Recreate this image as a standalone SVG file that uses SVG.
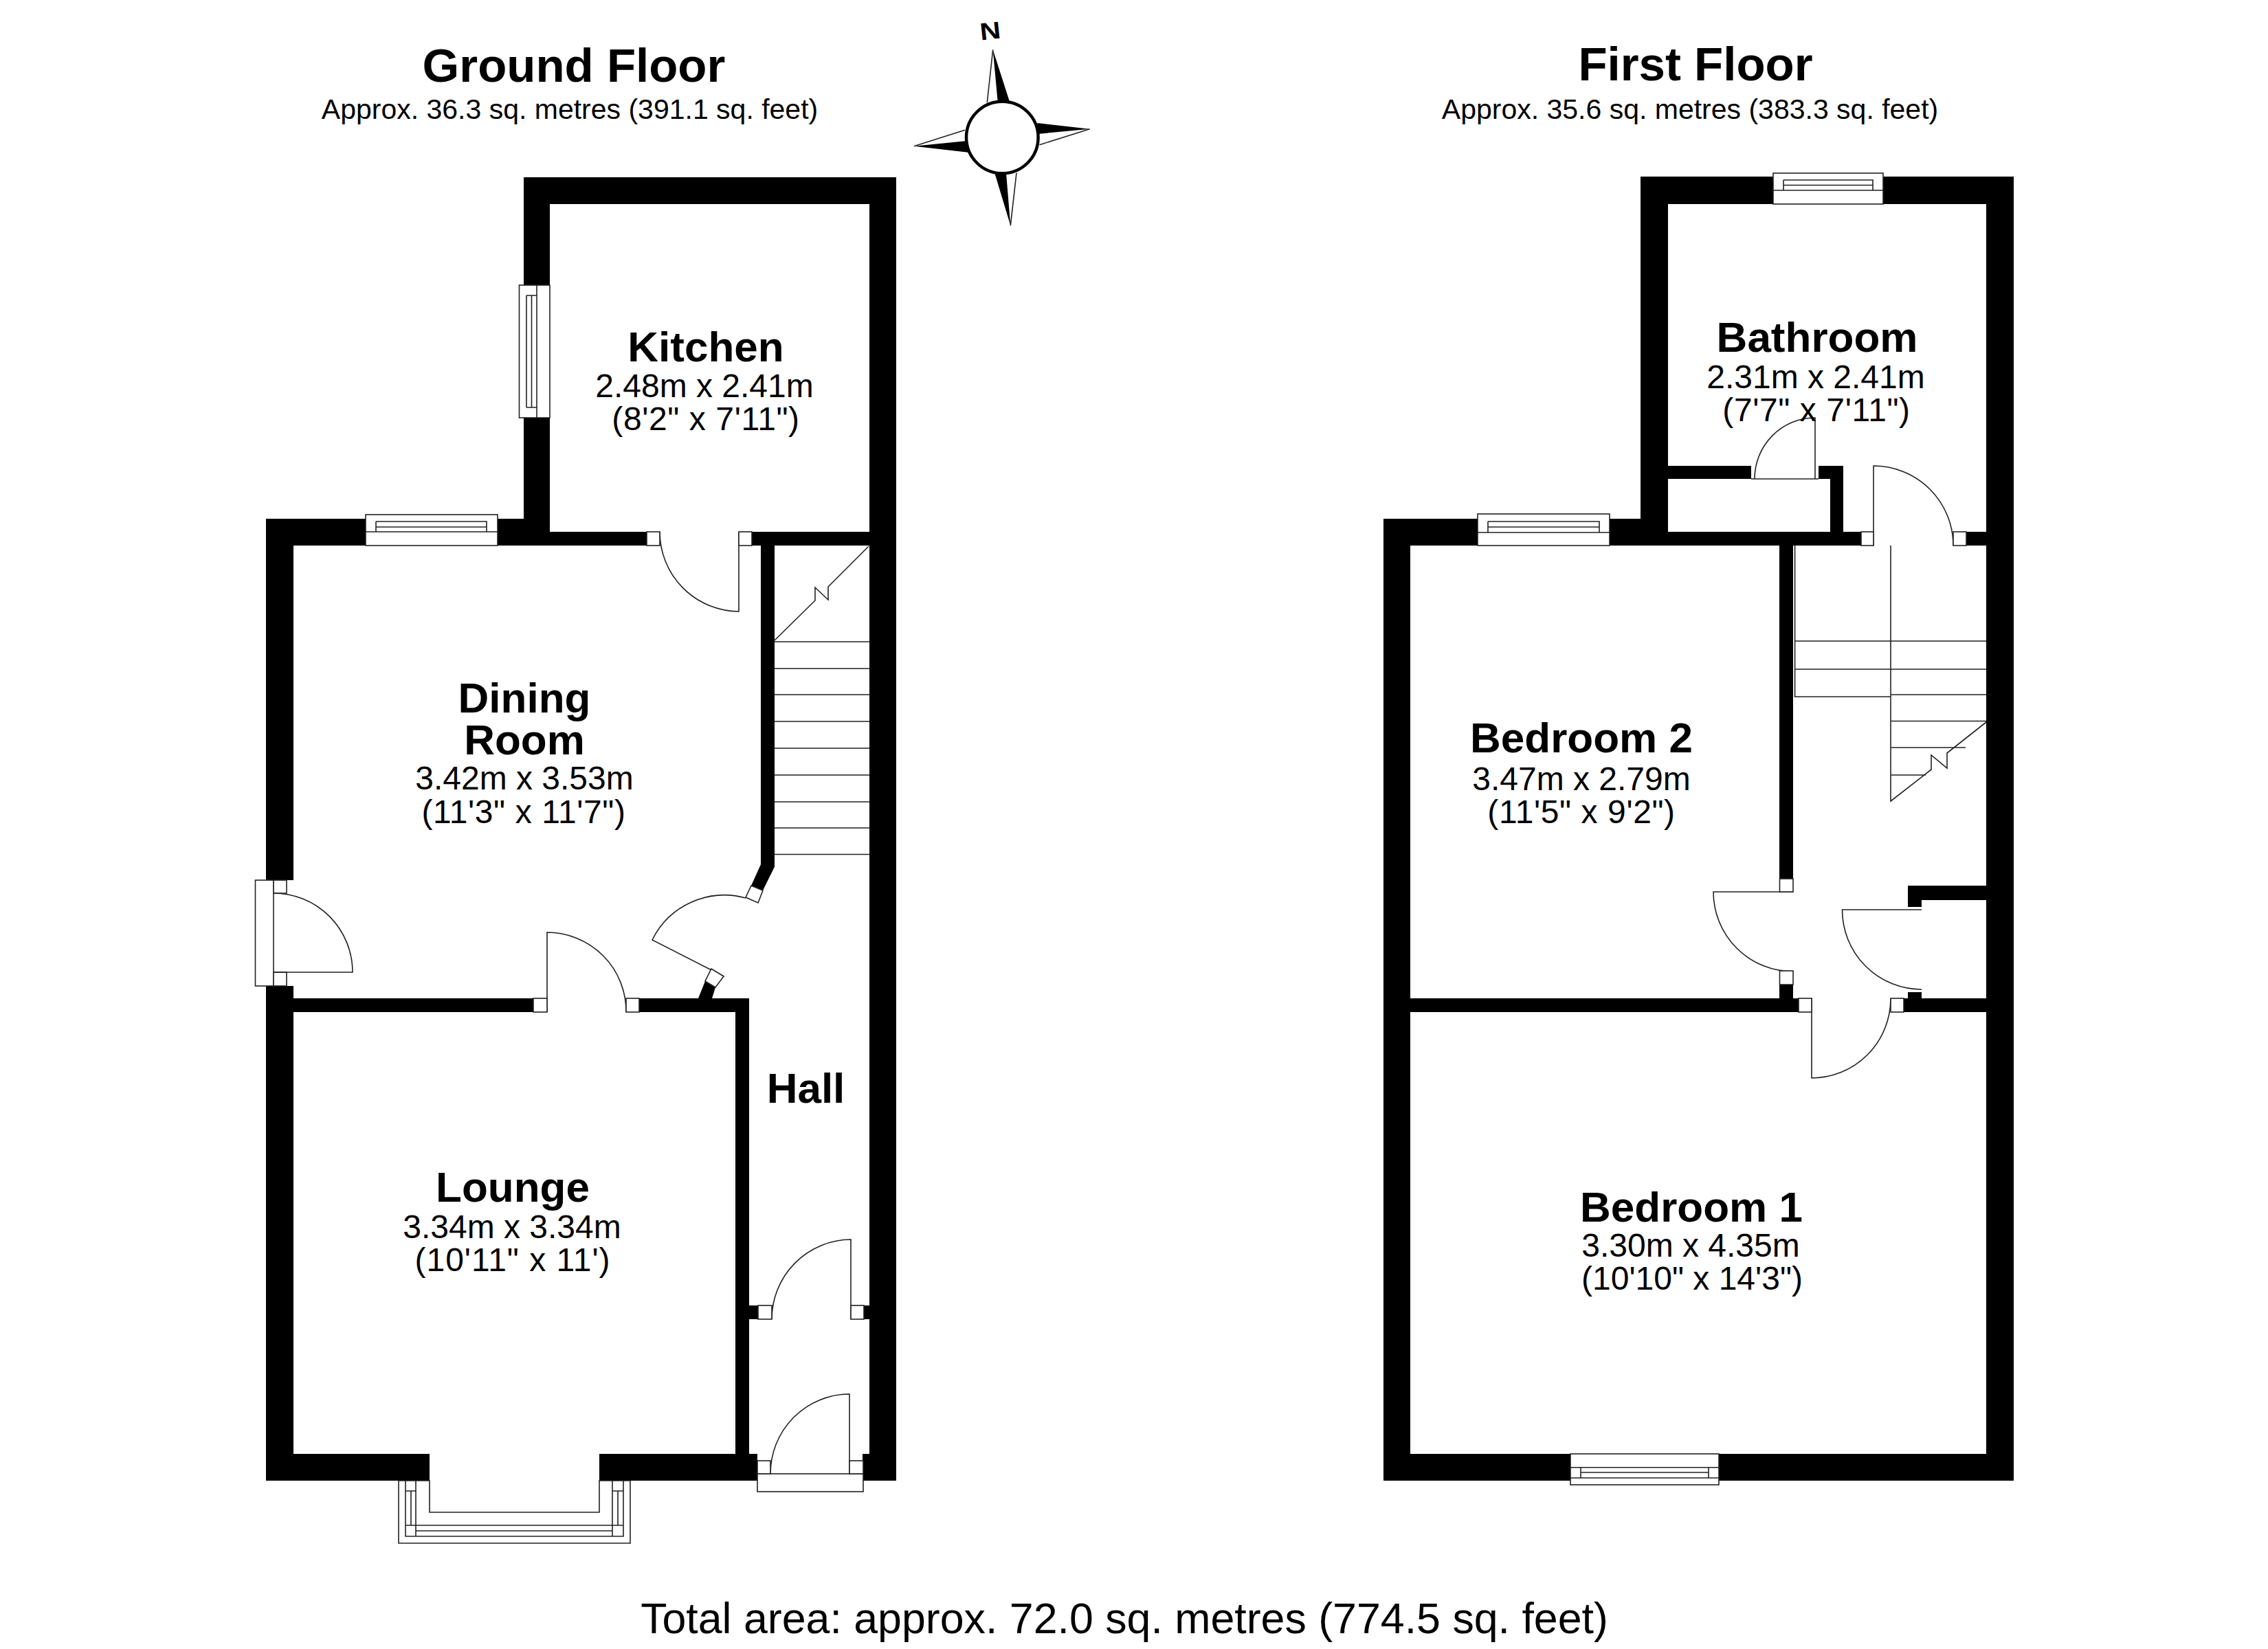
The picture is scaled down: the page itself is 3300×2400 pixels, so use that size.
<svg xmlns="http://www.w3.org/2000/svg" width="3300" height="2400" viewBox="0 0 3300 2400">
<style>
.bg{fill:#fff}
.w{fill:#000;stroke:none}
.l{fill:none;stroke:#222;stroke-width:1.6}
.f{fill:#fff;stroke:#222;stroke-width:1.6}
.t{fill:#000;font-family:"Liberation Sans",Arial,sans-serif;text-anchor:middle}
.h{font-size:69px;font-weight:700}
.s{font-size:41px}
.n{font-size:62px;font-weight:700}
.d{font-size:48px}
.q{font-size:48px;letter-spacing:.6px}
.a{font-size:62.700px}
</style>
<rect class="bg" width="3300" height="2400"/>
<g id="ground-floor-walls">
<path class="w" d="M762 258H1304V2155H1255V2116H1265V297H800V415H762ZM762 608H800V774H941V794H800V755H762ZM1094 774H1265V794H1127V1261.500L1110 1296L1093 1289L1107 1258V794H1094ZM387 755H532V794H427V1281H387ZM724 755H800V794H724ZM387 1435H427V1453H776V1473H427V2116H625V2155H387ZM930 1453H1090V2116H1102V2155H872V2116H1070V1473H930ZM1090 1900H1103V1920H1090ZM1257 1900H1265V1920H1257Z"/>
<polygon class="w" points="1016,1453 1026,1428 1041,1437 1036,1453"/>
</g>
<g id="ground-floor-windows">
<g id="window-dining"><rect class="f" x="532" y="749" width="192" height="45"/><path class="l" d="M532 774H724M547 759H708V774M547 759V774M547 767H708"/></g>
<g id="window-kitchen"><rect class="f" x="755.500" y="415" width="44.500" height="193"/><path class="l" d="M781 415V608M766 430H781M766 593H781M766 430V593M773.500 430V593"/></g>
<g id="window-lounge"><path class="f" d="M580 2155V2246H917V2155H872V2201H625V2155Z"/><path class="l" d="M590 2155V2236H907V2155M605 2155V2220H891V2155M590 2170H605M891 2170H907M598 2170V2220M899 2170V2220M590 2220H605M891 2220H907M605 2228H891M605 2236V2220M891 2236V2220"/></g>
</g>
<g id="ground-floor-doors">
<path class="l" d="M1075 774V890A116 116 0 0 1 960 774"/>
<rect class="f" x="941" y="774" width="19" height="20"/><rect class="f" x="1075" y="774" width="19" height="20"/>
<rect class="f" x="371.500" y="1281" width="26.500" height="154"/>
<rect class="f" x="398" y="1281" width="19" height="19"/><rect class="f" x="398" y="1415" width="19" height="20"/>
<path class="l" d="M398 1415H513A115 115 0 0 0 398 1300"/>
<path class="l" d="M796 1473V1357A115 115 0 0 1 911 1473"/>
<rect class="f" x="776" y="1453" width="20" height="20"/><rect class="f" x="911" y="1453" width="19" height="20"/>
<path class="l" d="M1053 1421L949 1368A117 117 0 0 1 1085 1307"/>
<polygon class="f" points="1093,1289 1110,1296 1103,1314 1085,1306"/>
<polygon class="f" points="1035,1410 1053,1421 1041,1437 1026,1428"/>
<path class="l" d="M1238 1920V1804A116 116 0 0 0 1123 1920"/>
<rect class="f" x="1103" y="1900" width="20" height="20"/><rect class="f" x="1238" y="1900" width="19" height="20"/>
<rect class="f" x="1102" y="2145" width="154" height="26"/>
<path class="l" d="M1236 2145V2029A115 116 0 0 0 1121 2145"/>
<rect class="f" x="1102" y="2126" width="19" height="19"/><rect class="f" x="1236" y="2126" width="20" height="19"/>
</g>
<g id="ground-floor-stairs">
<path class="l" d="M1127 934H1265M1127 973H1265M1127 1011H1265M1127 1050H1265M1127 1089H1265M1127 1128H1265M1127 1167H1265M1127 1205H1265M1127 1243.500H1265"/>
<path class="l" d="M1127 932L1186 874V855L1205 873V854L1264 795"/>
</g>
<g id="first-floor-walls">
<path class="w" d="M2387 257H2580V297H2427V678H2548V697H2427V774H2708V794H2342V755H2387ZM2740 257H2930V2155H2501V2116H2890V1473H2770V1453H2890V1310H2796V1320H2776V1289H2890V794H2861V774H2890V297H2740ZM2646 678H2682V774H2663V697H2646ZM2013 755H2150V794H2052V1453H2589V1433H2609V1453H2617V1473H2052V2116H2285V2155H2013ZM2589 794H2609V1279H2589ZM2776 1444H2796V1453H2776Z"/>
</g>
<g id="first-floor-windows">
<g id="window-bathroom"><rect class="f" x="2580" y="252" width="160" height="45"/><path class="l" d="M2580 277H2740M2595 262H2725V277M2595 262V277M2595 269.500H2725"/></g>
<g id="window-bedroom-2"><rect class="f" x="2150" y="748" width="192" height="46"/><path class="l" d="M2150 775H2342M2165 759H2327V775M2165 759V775M2165 767H2327"/></g>
<g id="window-bedroom-1"><rect class="f" x="2285" y="2116" width="216" height="45"/><path class="l" d="M2285 2135.700H2501M2285 2151H2501M2300 2135.700V2151M2486 2135.700V2151M2300 2143H2486"/></g>
</g>
<g id="first-floor-doors">
<path class="l" d="M2641 697V608A88 89 0 0 0 2553 697M2548 697H2646"/>
<path class="l" d="M2726 794V678A116 116 0 0 1 2842 794"/>
<rect class="f" x="2708" y="774" width="18" height="20"/><rect class="f" x="2842" y="774" width="19" height="20"/>
<path class="l" d="M2609 1298H2493A116 116 0 0 0 2609 1414"/>
<rect class="f" x="2589.500" y="1279" width="19.500" height="19"/><rect class="f" x="2589.500" y="1413" width="19.500" height="20"/>
<path class="l" d="M2636 1453V1569A115 116 0 0 0 2751 1453"/>
<rect class="f" x="2617" y="1453" width="19" height="20"/><rect class="f" x="2751" y="1453" width="19" height="20"/>
<path class="l" d="M2796 1324H2680.500A115.500 116 0 0 0 2796 1440"/>
</g>
<g id="first-floor-stairs">
<path class="l" d="M2611.600 794V1014H2751M2751 794V1166L2810 1120V1099L2833 1118V1096L2890 1051M2611.600 933H2890M2611.600 974H2890M2751 1011H2890M2751 1049.500H2890M2751 1088H2860M2751 1128H2802"/>
</g>
<g id="compass">
<polygon class="w" points="1444.700,72.300 1469,148 1451.700,148"/>
<polygon class="w" points="1585.700,187.700 1509.300,179 1509.300,195"/>
<polygon class="w" points="1470.300,328.300 1447.300,252 1464,252"/>
<polygon class="w" points="1330,212.700 1407.300,205 1408.300,221.700"/>
<path class="l" d="M1444.700 72.300L1436.300 149.300M1585.700 187.700L1512.700 210.700M1470.300 328.300L1479 251.700M1330 212.700L1404 189.300"/>
<circle cx="1458.300" cy="200" r="52.300" fill="#fff" stroke="#000" stroke-width="4.500"/>
<text class="t" transform="translate(1442 57) rotate(-6) scale(1.2 1)" style="font-size:35px;font-weight:700">N</text>
</g>
<g id="labels">
<text class="t h" x="835" y="119">Ground Floor</text>
<text class="t s" x="829" y="173">Approx. 36.3 sq. metres (391.1 sq. feet)</text>
<text class="t h" x="2467" y="117">First Floor</text>
<text class="t s" x="2459" y="173">Approx. 35.6 sq. metres (383.3 sq. feet)</text>
<g id="room-kitchen"><text class="t n" x="1027" y="526">Kitchen</text><text class="t d" x="1025" y="578">2.48m x 2.41m</text><text class="t q" x="1027" y="626">(8'2" x 7'11")</text></g>
<g id="room-dining"><text class="t n" x="763" y="1037">Dining</text><text class="t n" x="763" y="1098">Room</text><text class="t d" x="763" y="1149">3.42m x 3.53m</text><text class="t q" x="762" y="1198">(11'3" x 11'7")</text></g>
<g id="room-lounge"><text class="t n" x="746" y="1749">Lounge</text><text class="t d" x="745" y="1802">3.34m x 3.34m</text><text class="t d" x="746" y="1850" style="letter-spacing:1px">(10'11" x 11')</text></g>
<g id="room-hall"><text class="t n" x="1172.500" y="1605">Hall</text></g>
<g id="room-bathroom"><text class="t n" x="2644" y="512">Bathroom</text><text class="t d" x="2642" y="565">2.31m x 2.41m</text><text class="t q" x="2643" y="613">(7'7" x 7'11")</text></g>
<g id="room-bedroom-2"><text class="t n" x="2301" y="1095">Bedroom 2</text><text class="t d" x="2301" y="1150">3.47m x 2.79m</text><text class="t q" x="2301" y="1198">(11'5" x 9'2")</text></g>
<g id="room-bedroom-1"><text class="t n" x="2461" y="1778">Bedroom 1</text><text class="t d" x="2460" y="1829">3.30m x 4.35m</text><text class="t d" x="2462" y="1877">(10'10" x 14'3")</text></g>
<text class="t a" x="1636" y="2377">Total area: approx. 72.0 sq. metres (774.5 sq. feet)</text>
</g>
</svg>
